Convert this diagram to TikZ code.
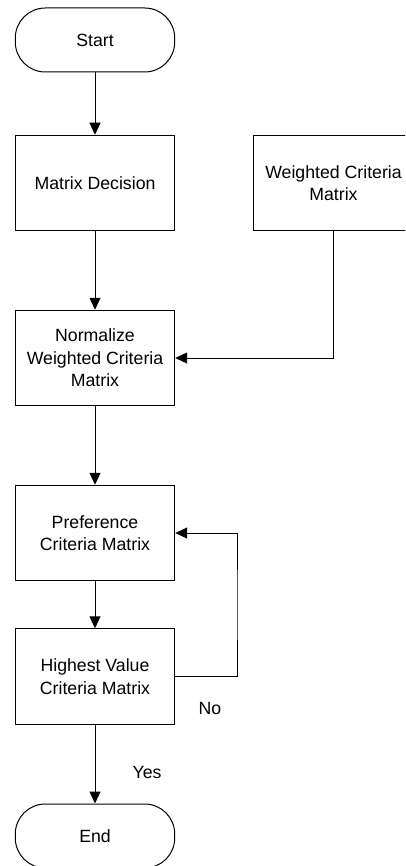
\documentclass[tikz,border=0pt]{standalone}
\usepackage{fontspec}
\setmainfont{Liberation Sans}
\usetikzlibrary{arrows.meta}
\tikzset{
  box/.style={draw, line width=1pt, minimum width=159.4pt, minimum height=95.5pt, align=center, inner sep=2pt, font=\fontsize{17.7pt}{22.5pt}\selectfont},
  term/.style={draw, line width=1pt, rounded corners=30pt, minimum width=159.4pt, minimum height=64pt, align=center, font=\fontsize{17.7pt}{22.5pt}\selectfont},
  conn/.style={line width=1pt, -{Triangle[length=12pt,width=11pt]}},
  plain/.style={line width=1pt},
  lbl/.style={font=\fontsize{17.7pt}{22.5pt}\selectfont, inner sep=0pt}
}
\begin{document}
\begin{tikzpicture}[x=1pt,y=-1pt]
\useasboundingbox (0,0) rectangle (405,866);
\clip (0,0) rectangle (405,866);
\node[term] (start) at (95,40) {Start};
\node[box] (md) at (95,183) {Matrix Decision};
\node[box] (wc) at (333.5,183) {Weighted Criteria\\Matrix};
\node[box] (norm) at (95,358) {Normalize\\Weighted Criteria\\Matrix};
\node[box] (pref) at (95,533) {Preference\\Criteria Matrix};
\node[box] (high) at (95,676.5) {Highest Value\\Criteria Matrix};
\node[term] (end) at (95,836) {End};
\coordinate (lp) at (237,605);
\draw[conn] (start) -- (md);
\draw[conn] (md) -- (norm);
\draw[conn] (wc.south) |- (norm.east);
\draw[conn] (norm) -- (pref);
\draw[conn] (pref) -- (high);
\draw[conn] (high.east) -| (lp) |- (pref.east);
\draw[conn] (high) -- (end);
\node[lbl] (no) at (210,708) {No};
\node[lbl] (yes) at (147,772) {Yes};
\end{tikzpicture}
\end{document}
